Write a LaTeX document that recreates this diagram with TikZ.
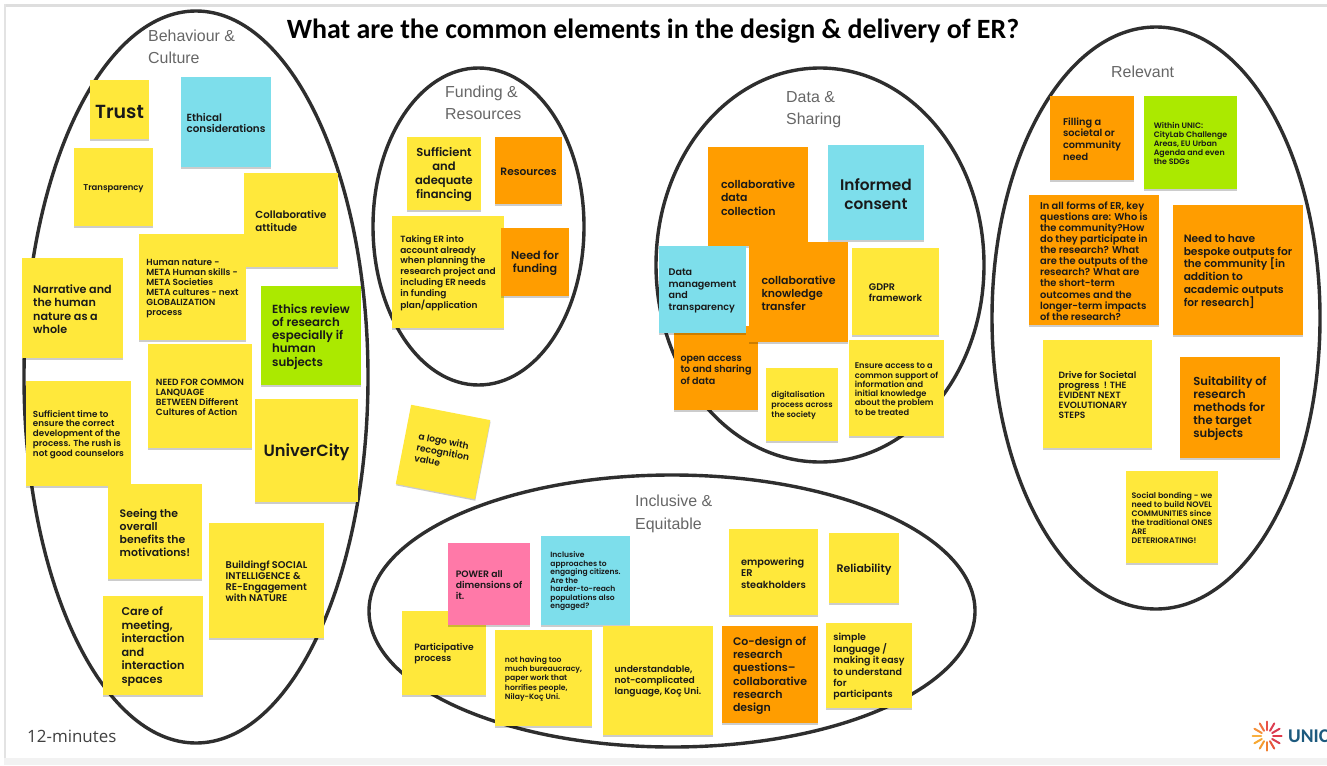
\documentclass[tikz,border=0pt]{standalone}
\usepackage{fontspec}
\usepackage{tikz}
\usetikzlibrary{shadows}
\newfontfamily\notefont{Poppins}[UprightFont=* SemiBold]
\newfontfamily\titlefont{Carlito}
\newfontfamily\groupfont{Liberation Sans}
\newfontfamily\timefont{Open Sans}
\definecolor{noteyellow}{HTML}{FFE83B}
\definecolor{noteorange}{HTML}{FF9D00}
\definecolor{notecyan}{HTML}{7DDEEB}
\definecolor{notegreen}{HTML}{ABE900}
\definecolor{notepink}{HTML}{FF79A8}
\definecolor{unicblue}{HTML}{1D5A7E}
\tikzset{
	ring/.style={line width=3.4bp, color=black!82},
	fs/.style={font=\notefont\fontsize{#1}{1.2\dimexpr#1pt\relax}\selectfont},
	fst/.style={font=\notefont\fontsize{#1}{1.12\dimexpr#1pt\relax}\selectfont},
	grouplabel/.style={font=\groupfont\fontsize{16}{22.5}\selectfont, text=black!60, align=left, inner sep=0pt},
	paper/.style={drop shadow={shadow xshift=0.4bp, shadow yshift=-1.5bp, opacity=0.2, fill=black}},
}
\def\sticky[#1](#2)(#3,#4)(#5,#6)#7{\node[paper, inner sep=0pt, align=left, text=black!90, #1, minimum width={(#5-#3)*1bp}, minimum height={(#6-#4)*1bp}] (#2) at ({(#3+#5)/2}, {(#4+#6)/2}) {\rule{0pt}{1em}#7};}

\begin{document}
\begin{tikzpicture}[x=1bp, y=-1bp]
	%%%%% START %%%%%
	\useasboundingbox (0, 0) rectangle (1327, 765);
	
	\fill[color=white] (0, 0) rectangle (1327, 765);
	\fill[color=black!13] (4, 4) rectangle (1327, 7);
	\fill[color=black!11] (4, 4) rectangle (6, 758);
	\fill[color=black!5] (4, 758) rectangle (1327, 765);
	
	\node[font=\titlefont\bfseries\fontsize{28}{30}\selectfont, inner sep=0pt] (title) at (653, 31.5) {What are the common elements in the design \& delivery of ER?};
	
	\draw[ring] (196, 377) ellipse [x radius=172, y radius=366];
	\draw[ring] (478.5, 226.5) ellipse [x radius=105.5, y radius=158.5];
	\draw[ring] (820, 265) ellipse [x radius=164, y radius=197];
	\draw[ring] (672, 611) ellipse [x radius=303, y radius=136];
	\draw[ring] (1156, 318) ellipse [x radius=164, y radius=291];
	
	\node[grouplabel, anchor=west] (behaviour) at (148, 47) {Behaviour \&\\Culture};
	\node[grouplabel, anchor=west] (funding) at (445, 103) {Funding \&\\Resources};
	\node[grouplabel, anchor=west] (datalabel) at (786, 109.5) {Data \&\\Sharing};
	\node[grouplabel, anchor=west] (inclusive) at (635, 514) {Inclusive \&\\Equitable};
	\node[grouplabel, anchor=west] (relevant) at (1111, 72) {Relevant};
	
	% behaviour and culture
	\sticky[fill=noteyellow, fs=19](trust)(90, 80)(149, 139){Trust};
	\sticky[fill=notecyan, fst=10.4](ethical)(181, 77)(271, 167){Ethical\\considerations};
	\sticky[fill=noteyellow, fs=8.5](transparency)(74, 148)(153, 226){Transparency};
	\sticky[fill=noteyellow, fs=10.3](collabatt)(244, 173)(338, 267){Collaborative\\attitude};
	\sticky[fill=noteyellow, fst=8.9](humannature)(139, 234)(246, 340){Human nature -\\META Human skills -\\META Societies\\META cultures - next\\GLOBALIZATION\\process};
	\sticky[fill=noteyellow, fs=11.2](narrative)(22, 258)(123, 358){Narrative and\\the human\\nature as a\\whole};
	\sticky[fill=notegreen, fst=11.8](ethicsreview)(261, 286)(361, 385){Ethics review\\of research\\especially if\\human\\subjects};
	\sticky[fill=noteyellow, fst=9](commonlang)(148, 344)(252, 448){NEED FOR COMMON\\LANQUAGE\\BETWEEN Different\\Cultures of Action};
	\sticky[fill=noteyellow, fst=8.8](enoughtime)(26, 381)(131, 486){Sufficient time to\\ensure the correct\\development of the\\process. The rush is\\not good counselors};
	\sticky[fill=noteyellow, fs=16.3](univercity)(255, 399)(358, 502){UniverCity};
	\sticky[fill=noteyellow, fs=10.9](seeing)(108, 484)(202, 579){Seeing the\\overall\\benefits the\\motivations!};
	\sticky[fill=noteyellow, fst=9.8](buildingf)(209, 523)(324, 638){Buildingf SOCIAL\\INTELLIGENCE \&\\RE-Engagement\\with NATURE};
	\sticky[fill=noteyellow, fs=11.3](care)(103, 596)(203, 695){Care of\\meeting,\\interaction\\and\\interaction\\spaces};
	
	% funding and resources
	\sticky[fill=noteyellow, fs=11.6, align=center](financing)(407, 137)(481, 210){Sufficient\\and\\adequate\\financing};
	\sticky[fill=noteorange, fs=10.7](resources)(495, 137)(562, 204){Resources};
	\sticky[fill=noteyellow, fs=9](takinger)(392, 216)(504, 328){Taking ER into\\account already\\when planning the\\research project and\\including ER needs\\in funding\\plan/application};
	\sticky[fill=noteorange, fst=11.2, align=center](needfunding)(501, 228)(569, 296){Need for\\funding};
	
	\node[paper, fill=noteyellow, fs=9.2, text=black!90, align=left, inner sep=0pt, minimum width=80.6bp, minimum height=80.6bp, rotate=-11] (logovalue) at (443, 452) {a logo with\\recognition\\value};
	
	% data and sharing
	\sticky[fill=noteorange, fs=9.6](openaccess)(674, 326)(758, 410){open access\\to and sharing\\of data};
	\sticky[fill=noteorange, fs=11](collabdata)(708, 147)(808, 246){collaborative\\data\\collection};
	\sticky[fill=notecyan, fs=15.4, align=center](informed)(828, 145)(924, 240){Informed\\consent};
	\sticky[fill=notecyan, fs=9.6](datamgmt)(659, 246)(746, 333){Data\\management\\and\\transparency};
	\sticky[fill=noteorange, fs=11](collabknow)(749, 242)(848, 342){collaborative\\knowledge\\transfer};
	\sticky[fill=noteyellow, fs=9.6](gdpr)(852, 248)(939, 335){GDPR\\framework};
	\sticky[fill=noteyellow, fs=8](digital)(766, 368)(838, 441){digitalisation\\process across\\the society};
	\sticky[fill=noteyellow, fst=8.3](ensure)(849, 340)(944, 436){Ensure access to a\\common support of\\information and\\initial knowledge\\about the problem\\to be treated};
	
	% inclusive and equitable
	\sticky[fill=noteyellow, fs=9.2](participative)(402, 611)(486, 695){Participative\\process};
	\sticky[fill=notepink, fs=9.3](power)(448, 543)(530, 625){POWER all\\dimensions of\\it.};
	\sticky[fill=notecyan, fst=7.6](inclapproach)(541, 536)(630, 625){Inclusive\\approaches to\\engaging citizens.\\Are the\\harder-to-reach\\populations also\\engaged?};
	\sticky[fill=noteyellow, fs=7.7](bureaucracy)(495, 630)(592, 726){not having too\\much bureaucracy,\\paper work that\\horrifies people,\\Nilay-Koç Uni.};
	\sticky[fill=noteyellow, fs=9.2](understandable)(603, 626)(713, 735){understandable,\\not-complicated\\language, Koç Uni.};
	\sticky[fill=noteyellow, fs=9.8](empowering)(729, 529)(818, 615){empowering\\ER\\steakholders};
	\sticky[fill=noteyellow, fs=11](reliability)(829, 533)(899, 603){Reliability};
	\sticky[fill=noteorange, fs=11](codesign)(722, 626)(818, 723){Co-design of\\research\\questions–\\collaborative\\research\\design};
	\sticky[fill=noteyellow, fs=9.5](simplelang)(826, 623)(912, 708){simple\\language /\\making it easy\\to understand\\for\\participants};
	
	% relevant
	\sticky[fill=noteorange, fs=9.8](filling)(1050, 96)(1134, 180){Filling a\\societal or\\community\\need};
	\sticky[fill=notegreen, fst=7.9](withinunic)(1144, 96)(1237, 189){Within UNIC:\\CityLab Challenge\\Areas, EU Urban\\Agenda and even\\the SDGs};
	\sticky[fill=noteorange, fst=9.9](allforms)(1029, 195)(1159, 325){In all forms of ER, key\\questions are: Who is\\the community?How\\do they participate in\\the research? What\\are the outputs of the\\research? What are\\the short-term\\outcomes and the\\longer-term impacts\\of the research?};
	\sticky[fill=noteorange, fs=10.7](bespoke)(1173, 205)(1303, 335){Need to have\\bespoke outputs for\\the community [in\\addition to\\academic outputs\\for research]};
	\sticky[fill=noteyellow, fst=9.1](drive)(1043, 340)(1152, 448){Drive for Societal\\progress~~! THE\\EVIDENT NEXT\\EVOLUTIONARY\\STEPS};
	\sticky[fill=noteorange, fst=11.6](suitability)(1180, 357)(1280, 458){Suitability of\\research\\methods for\\the target\\subjects};
	\sticky[fill=noteyellow, fst=8](bonding)(1126, 471)(1218, 563){Social bonding - we\\need to build NOVEL\\COMMUNITIES since\\the traditional ONES\\ARE\\DETERIORATING!};
	
	\node[font=\timefont\fontsize{17}{19}\selectfont, text=black!75, inner sep=0pt, anchor=west] (minutes) at (27, 736) {12-minutes};
	
	\foreach \a/\c in {0/E0394A, 30/D8404F, 60/E8553A, 90/F08030, 120/F59A30, 150/F7A832, 180/F9B040, 210/F59038, 240/EF7040, 270/E85048, 300/DD3F52, 330/D93A50}{
		\definecolor{spoke}{HTML}{\c}
		\draw[line width=2bp, color=spoke, line cap=round] (1267, 736) ++(\a:6) -- ++(\a:8.5);
	}
	\node[font=\titlefont\bfseries\fontsize{19.5}{22}\selectfont, text=unicblue, inner sep=0pt, anchor=west] (unic) at (1288, 736) {UNIC};
	
	%%%%% END %%%%%
\end{tikzpicture}
\end{document}
